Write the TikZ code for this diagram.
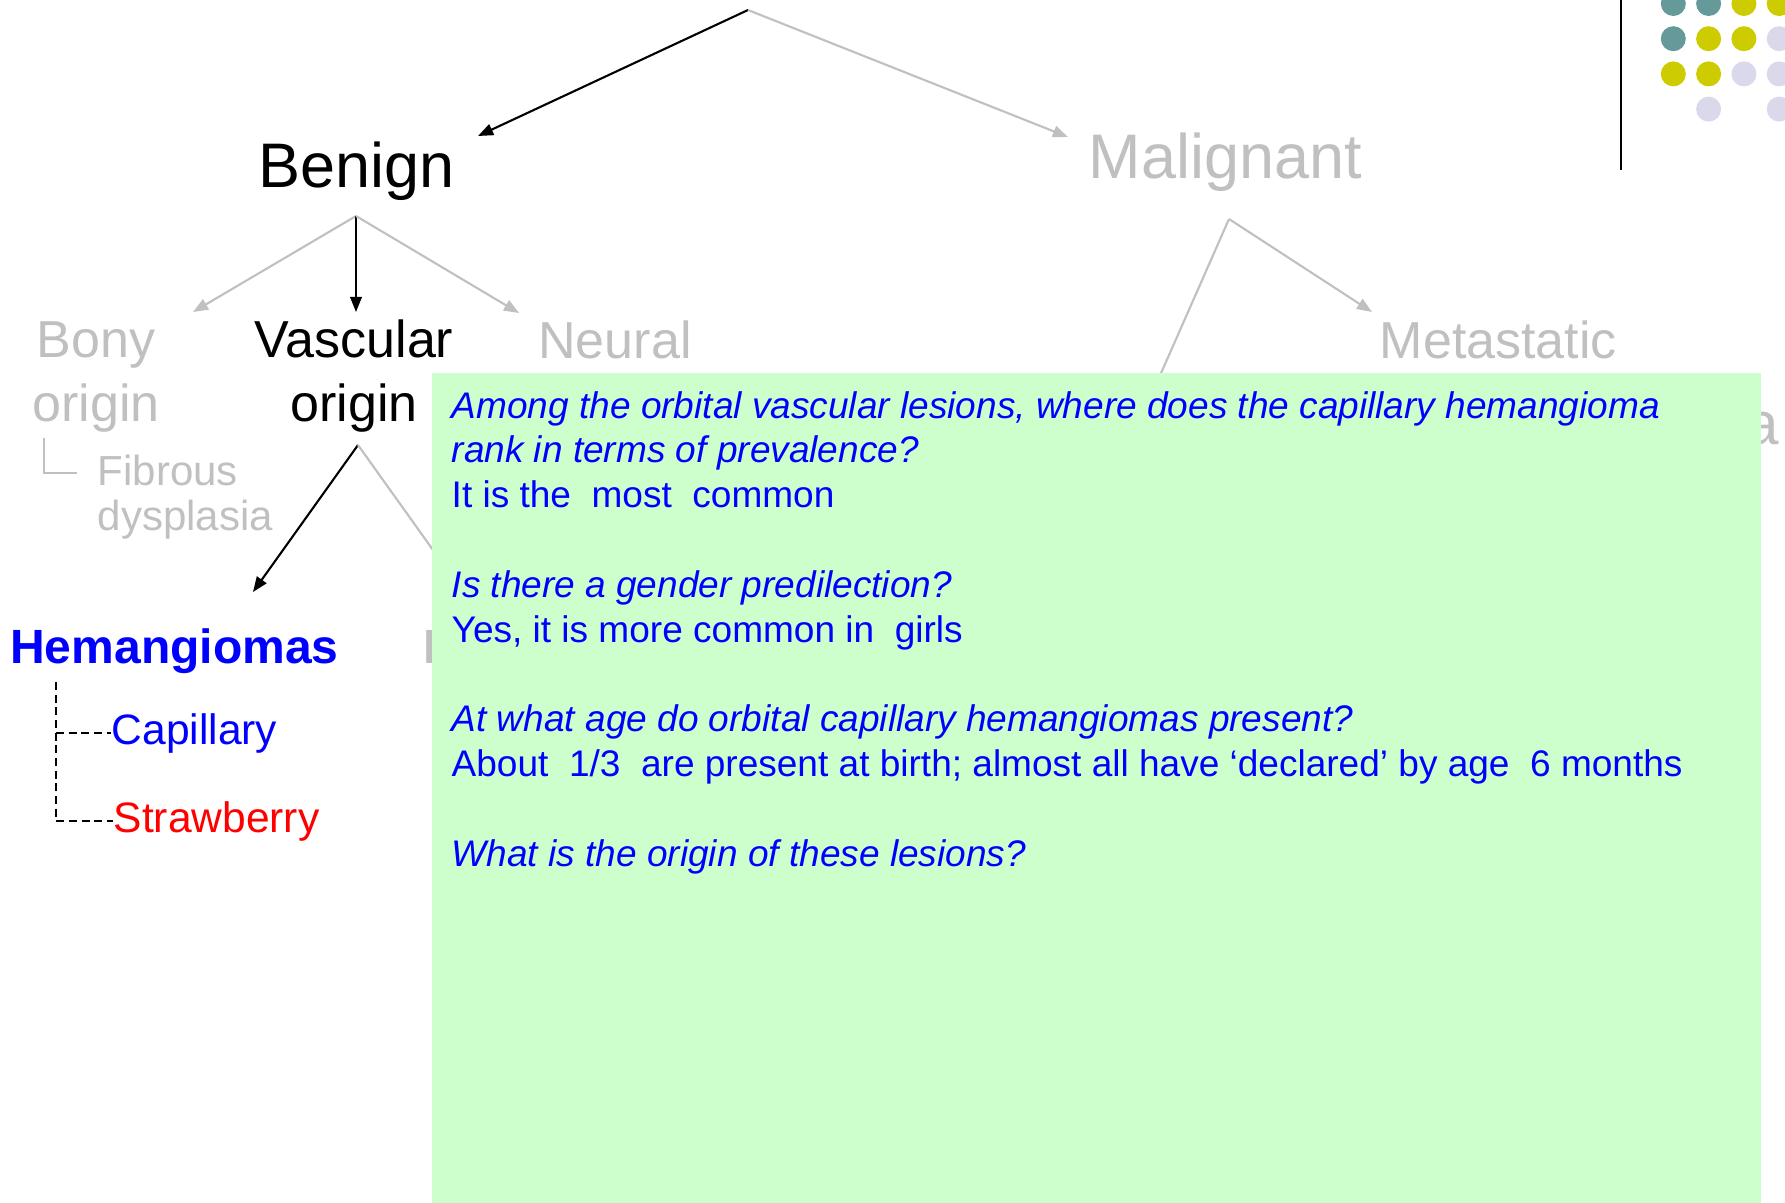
\documentclass[tikz,border=0pt]{standalone}
\usepackage{fontspec}
\setmainfont{Liberation Sans}
\usetikzlibrary{arrows.meta}

\definecolor{paleGreen}{RGB}{204,255,204}
\definecolor{lightGrey}{RGB}{192,192,192}
\definecolor{dotTeal}{RGB}{102,153,153}
\definecolor{dotOlive}{RGB}{204,204,0}
\definecolor{dotLilac}{RGB}{217,217,235}

\tikzset{
  levelone/.style={font=\fontsize{17.9}{21.5}\selectfont, anchor=base west},
  leveltwo/.style={font=\fontsize{14.8}{18.07}\selectfont, align=center, anchor=base},
  fibrous/.style={font=\fontsize{11.95}{12.8}\selectfont, align=left, anchor=base west, text=lightGrey},
  hemstyle/.style={font=\bfseries\fontsize{13.66}{16}\selectfont, anchor=base west},
  subtype/.style={font=\fontsize{12.1}{14}\selectfont, anchor=base west},
  question/.style={font=\itshape\fontsize{10.53}{12.7}\selectfont, text=blue, anchor=base west},
  answer/.style={font=\fontsize{10.53}{12.7}\selectfont, text=blue, anchor=base west},
  blackarrow/.style={-{Triangle[length=4.3pt,width=3.3pt]}, line width=0.6pt},
  greyarrow/.style={blackarrow, draw=lightGrey, fill=lightGrey},
  greyline/.style={draw=lightGrey, line width=0.45pt},
  treeline/.style={line width=0.45pt, dash pattern=on 2.3pt off 1.3pt},
  qbox/.style={fill=paleGreen, anchor=north west, minimum width=13.29cm, minimum height=8.4cm}
}

\begin{document}
\begin{tikzpicture}[x=0.01cm, y=-0.01cm, every node/.style={inner sep=0pt}]
  \useasboundingbox (0,0) rectangle (1785,1202);

  % corner ornament
  \draw[line width=0.8pt] (1621,0) -- (1621,170);
  \foreach \i/\j/\c in {0/0/dotTeal, 1/0/dotTeal, 2/0/dotOlive, 3/0/dotOlive,
                        0/1/dotTeal, 1/1/dotOlive, 2/1/dotOlive, 3/1/dotLilac,
                        0/2/dotOlive, 1/2/dotOlive, 2/2/dotLilac, 3/2/dotLilac,
                        1/3/dotLilac, 3/3/dotLilac}
    \fill[\c] ({1673.3+35.3*\i},{3.5+35.2*\j}) circle[radius=12.5];

  % first level
  \node[levelone] (benign) at (258,187) {Benign};
  \node[levelone, text=lightGrey] (malignant) at (1088,178) {Malignant};

  \coordinate (root) at (748,10);
  \coordinate (benignTip) at (478,136);
  \coordinate (malignantTip) at (1068,137);
  \draw[blackarrow] (root) -- (benignTip);
  \draw[greyarrow] (root) -- (malignantTip);

  % benign branches (base = last line)
  \node[leveltwo, text=lightGrey] (bony) at (96,421.5) {Bony\\origin};
  \node[leveltwo] (vascular) at (354,421.5) {Vascular\\origin};
  \node[leveltwo, text=lightGrey] (neural) at (615,358) {Neural};

  \coordinate (benignFork) at (356,216);
  \coordinate (bonyTip) at (193,312);
  \coordinate (vascularTip) at (356,312);
  \coordinate (neuralTip) at (519,313);
  \draw[greyarrow] (benignFork) -- (bonyTip);
  \draw[blackarrow] (benignFork) -- (vascularTip);
  \draw[greyarrow] (benignFork) -- (neuralTip);

  \node[fibrous] (fibrous) at (97,530) {Fibrous\\dysplasia};
  \coordinate (fibrousRoot) at (44,438);
  \coordinate (fibrousEnd) at (77,473);
  \draw[greyline] (fibrousRoot) |- (fibrousEnd);

  % malignant branches
  \node[leveltwo, anchor=base west, text=lightGrey] (metastatic) at (1379,358) {Metastatic};
  \node[levelone, text=lightGrey, font=\fontsize{17.1}{20}\selectfont] (lymph) at (1745,444) {a};

  \coordinate (malignantFork) at (1229,219);
  \coordinate (metastaticTip) at (1372,312);
  \coordinate (lymphTip) at (1061,600);
  \draw[greyarrow] (malignantFork) -- (lymphTip);
  \draw[greyarrow] (malignantFork) -- (metastaticTip);

  % vascular lesions
  \node[hemstyle, text=blue] (hemangiomas) at (9.5,663) {Hemangiomas};
  \node[hemstyle, text=lightGrey] (lymphangiomas) at (422.5,663) {L};

  \coordinate (vascularFork) at (358,445);
  \coordinate (hemangiomasTip) at (253,592);
  \coordinate (lymphangiomasTip) at (463,592);
  \draw[blackarrow] (vascularFork) -- (hemangiomasTip);
  \draw[greyarrow] (vascularFork) -- (lymphangiomasTip);

  \node[subtype, text=blue] (capillary) at (111,744) {Capillary};
  \node[subtype, text=red] (strawberry) at (113,832) {Strawberry};
  \coordinate (hemRoot) at (56,682);
  \draw[treeline] (hemRoot) |- (strawberry.west);
  \draw[treeline] (hemRoot |- capillary.west) -- (capillary.west);

  % question panel
  \node[qbox] (panel) at (431,372) {};

  \node[question] (q1) at (451,418) {Among the orbital vascular lesions, where does the capillary hemangioma};
  \node[question] (q1b) at (451,462.8) {rank in terms of prevalence?};
  \node[answer] (a1) at (451,507.6) {It is the\ \ most\ \ common};

  \node[question] (q2) at (451,597.2) {Is there a gender predilection?};
  \node[answer] (a2) at (451,642) {Yes, it is more common in\ \ girls};

  \node[question] (q3) at (451,731.6) {At what age do orbital capillary hemangiomas present?};
  \node[answer] (a3) at (451,776.4) {About\ \ 1/3\ \ are present at birth; almost all have ‘declared’ by age\ \ 6 months};

  \node[question] (q4) at (451,866) {What is the origin of these lesions?};
\end{tikzpicture}
\end{document}
